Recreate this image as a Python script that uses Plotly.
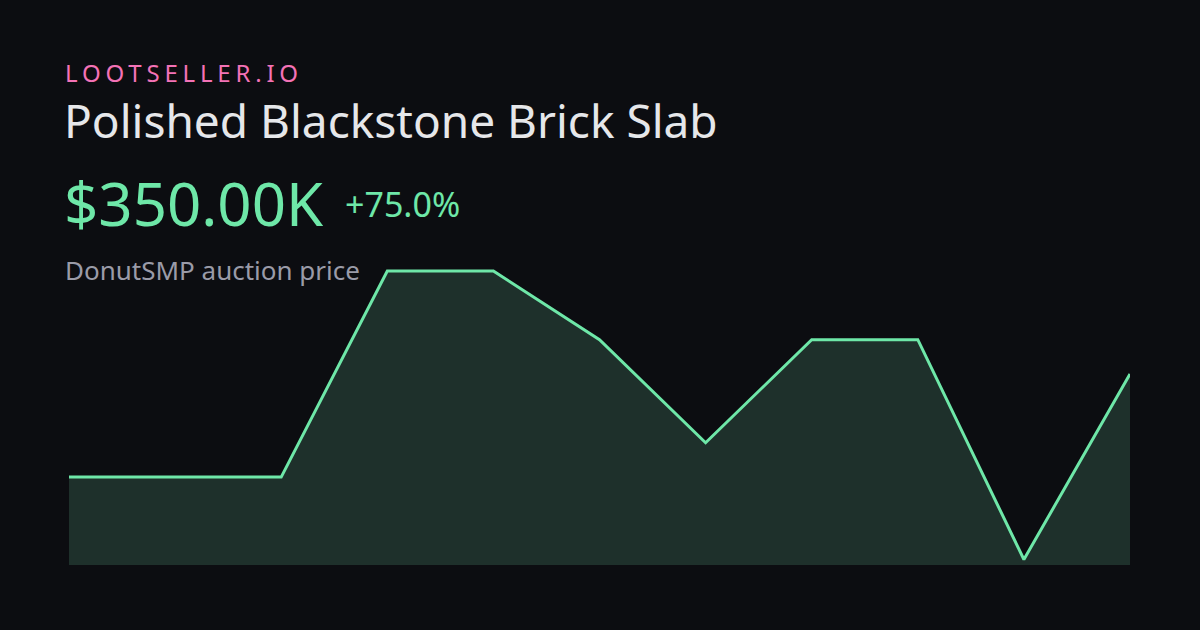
import plotly.graph_objects as go

# Data (in thousands)
points = list(range(11))
prices_k = [200, 200, 200, 500, 500, 400, 250, 400, 400, 80, 350]
y_range = [72, 530.6]

brand = "LOOTSELLER.IO"
title = "Polished Blackstone Brick Slab"
price_label = "$350.00K"
change_label = "+75.0%"
subtitle = "DonutSMP auction price"

BG = "#0c0d11"
GREEN = "#6ee7a8"
FILL = "#1e302b"
FONT = "Noto Sans"

W, H = 1200, 630
L, R, T, B = 69, 70, 250, 65
PW, PH = W - L - R, H - T - B


def px(x):
    return (x - L) / PW


def py(y):
    return (H - B - y) / PH


fig = go.Figure()
fig.add_trace(go.Scatter(
    x=points, y=prices_k, mode="lines",
    line=dict(color=GREEN, width=3, shape="linear"),
    fill="tozeroy", fillcolor=FILL, hoverinfo="skip",
))

annos = [
    (f'<span style="letter-spacing:4.8px">{brand}</span>', 63, 72, 24, "#f472b6"),
    (title, 62, 120, 46, "#e6e7ea"),
    (price_label, 62, 203, 60, GREEN),
    (change_label, 343, 204, 34, GREEN),
    (subtitle, 63, 270, 26, "#9a9ba8"),
]
for text, x, y, size, color in annos:
    fig.add_annotation(
        text=text, x=px(x), y=py(y), xref="paper", yref="paper",
        xanchor="left", yanchor="middle", showarrow=False,
        font=dict(family=FONT, size=size, color=color),
    )

fig.update_layout(
    width=W, height=H,
    margin=dict(l=L, r=R, t=T, b=B),
    paper_bgcolor=BG, plot_bgcolor=BG,
    showlegend=False,
    xaxis=dict(visible=False, range=[0, 10], fixedrange=True),
    yaxis=dict(visible=False, range=y_range, fixedrange=True),
)

html = fig.to_html(config={"displayModeBar": False}, include_plotlyjs=True, full_html=True)
html = html.replace("<head>", "<head><style>html,body{margin:0;padding:0;background:%s;overflow:hidden}</style>" % BG, 1)
with open("out.html", "w", encoding="utf-8") as f:
    f.write(html)
